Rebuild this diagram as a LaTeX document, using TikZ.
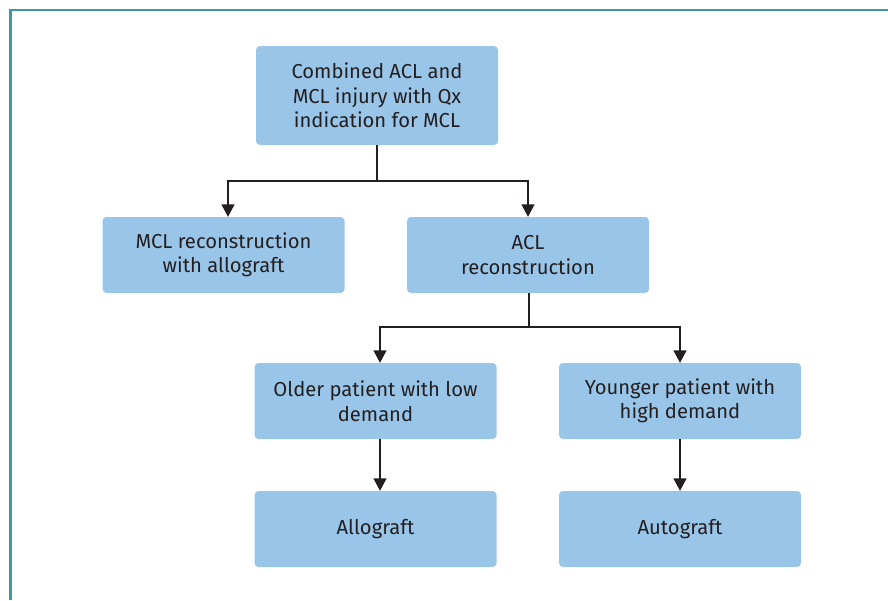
\documentclass[tikz,border=0pt]{standalone}
\usepackage{fontspec}
\setmainfont{Fira Sans}
\usetikzlibrary{arrows.meta}
\definecolor{boxblue}{HTML}{99C5E9}
\definecolor{frameteal}{HTML}{3E9AA0}
\definecolor{linedark}{HTML}{231F20}
\begin{document}
\begin{tikzpicture}[x=1pt,y=-1pt,
  box/.style={fill=boxblue,draw=none,rounded corners=4pt,align=center,
    inner sep=0pt,minimum width=242pt,minimum height=76pt,
    font=\fontsize{20.2}{24.5}\selectfont,text=linedark},
  conn/.style={draw=linedark,line width=1.5pt},
  arr/.style={conn,-{Triangle[length=12.5pt,width=13pt]}}]
\useasboundingbox (0,0) rectangle (888,600);
\draw[frameteal,line width=2.6pt] (10.4,600) -- (10.4,10) -- (888,10);
\node[box,minimum height=99pt] (top) at (377,95.5) {Combined ACL and\\MCL injury with Qx\\indication for MCL};
\node[box] (mcl) at (223.5,255) {MCL reconstruction\\with allograft};
\node[box] (acl) at (528,255) {ACL\\reconstruction};
\node[box] (old) at (375.5,401) {Older patient with low\\demand};
\node[box] (young) at (680,401) {Younger patient with\\high demand};
\node[box] (allo) at (375.5,529) {Allograft};
\node[box] (auto) at (680,529) {Autograft};
\coordinate (j1) at (377,181);
\coordinate (j2) at (529,327);
\draw[conn] (top.south) -- (j1);
\draw[arr] (j1) -| ([xshift=4.5pt]mcl.north);
\draw[arr] (j1) -| (acl.north);
\draw[conn] ([xshift=1pt]acl.south) -- (j2);
\draw[arr] (j2) -| ([xshift=4.5pt]old.north);
\draw[arr] (j2) -| (young.north);
\draw[arr] ([xshift=4.5pt]old.south) -- ([xshift=4.5pt]allo.north);
\draw[arr] (young.south) -- (auto.north);
\end{tikzpicture}
\end{document}
